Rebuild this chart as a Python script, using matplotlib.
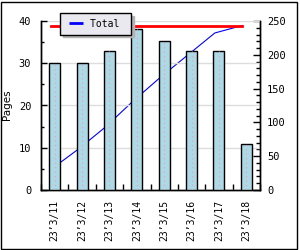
import matplotlib
matplotlib.use('Agg')
import matplotlib.pyplot as plt
from matplotlib.patches import Rectangle
from matplotlib.lines import Line2D
from matplotlib.ticker import MultipleLocator

dates = ["23’3/11", "23’3/12", "23’3/13", "23’3/14",
         "23’3/15", "23’3/16", "23’3/17", "23’3/18"]
pages = [30, 30, 33, 38, 35.3, 33, 33, 11]
total = [30, 60, 93, 131, 166.3, 199.3, 232.3, 243.3]
target = [243.3] * 8

mono = 'DejaVu Sans Mono'
fig = plt.figure(figsize=(3, 2.5), dpi=100)
fig.patch.set_facecolor('white')
fig.patches.append(Rectangle((1/300, 1.5/250), 296/300, 247/250, transform=fig.transFigure,
                             fill=False, ec='black', lw=1))

# line axis (right scale) underneath, bar axis (left scale) on top
ax = fig.add_axes([41/300, 60/250, 219/300, 169/250])
ax2 = ax.twinx()
ax.set_zorder(1)
ax2.set_zorder(2)
ax2.patch.set_visible(False)
ax.yaxis.tick_right()
ax2.yaxis.tick_left()

x = list(range(len(dates)))
xl = [i - 0.15 for i in x]
ax.plot(xl, total, color='blue', lw=0.8)
ax.plot(xl, target, color='red', lw=2)
ax.set_ylim(0, 250)
ax.yaxis.set_major_locator(MultipleLocator(50))
ax.yaxis.set_minor_locator(MultipleLocator(10))

ax2.bar(x, pages, width=0.4, color='lightblue', edgecolor='black', lw=1, zorder=3)
for i, p in zip(x, pages):
    ax2.plot([i, i], [0, p], color='#f0a0a0', lw=0.8, ls=(0, (1, 3)), zorder=4)
ax2.set_ylim(0, 40)
ax2.yaxis.set_major_locator(MultipleLocator(10))
ax2.yaxis.set_minor_locator(MultipleLocator(5))
ax2.grid(axis='y', color='#dddddd', lw=1)
ax2.set_axisbelow(True)

ax.set_xlim(-0.5, 7.5)
ax.set_xticks([i + 0.5 for i in range(-1, 8)])
ax.set_xticklabels([])
ax.set_xticks(x, minor=True)
ax.set_xticklabels(dates, minor=True, rotation=90, fontsize=7, family=mono)
ax.tick_params(axis='x', which='major', direction='in', length=4, width=1)
ax.tick_params(axis='x', which='minor', length=0, pad=7)

ax.tick_params(axis='y', which='major', direction='in', length=5, width=1,
               labelsize=7.5, pad=5, right=True, left=False)
ax.tick_params(axis='y', which='minor', direction='in', length=3, width=1, right=True, left=False)
ax2.tick_params(axis='y', which='major', direction='in', length=4, width=1,
                labelsize=7.5, pad=7, left=True, right=False)
ax2.tick_params(axis='y', which='minor', direction='in', length=2.5, width=1, left=True, right=False)
for a in (ax, ax2):
    for lbl in a.get_yticklabels():
        lbl.set_family(mono)
    a.spines['top'].set_visible(False)
    for s in ('left', 'right', 'bottom'):
        a.spines[s].set_linewidth(1)

fig.text(7/300, 1 - 105/250, 'Pages', rotation=90, ha='center', va='center', fontsize=7.5)

handle = Line2D([], [], color='blue', marker='_', ls='none', markersize=10, mew=2)
leg = ax2.legend([handle], ['Total '], loc='upper left', bbox_to_anchor=(60/300, 1 - 13/250),
                 bbox_transform=fig.transFigure, borderaxespad=0, fancybox=False,
                 shadow={'color': '#b4b4b4', 'alpha': 1}, framealpha=1,
                 facecolor='#ebe9f0', edgecolor='black', prop={'family': mono, 'size': 7},
                 handlelength=2.0, handletextpad=0.5, borderpad=0.6)
leg.get_frame().set_linewidth(1)

fig.savefig('out.png', dpi=100)
